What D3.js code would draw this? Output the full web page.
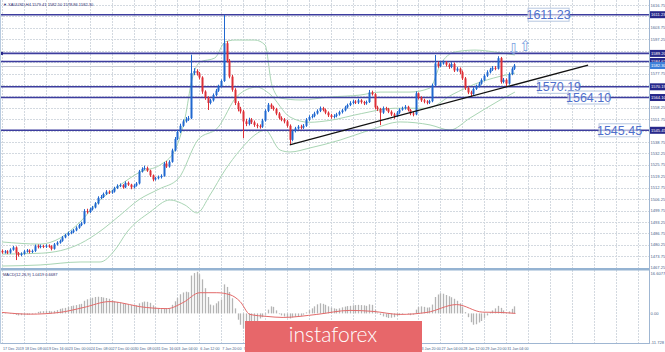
<!DOCTYPE html>
<html>
<head>
<meta charset="utf-8">
<script src="https://cdn.jsdelivr.net/npm/d3@7/dist/d3.min.js"></script>
<style>
	body { margin: 0; background: #fff; }
	svg { display: block; font-family: "DejaVu Sans", sans-serif; }
	.small { font-family: "Liberation Sans Narrow", "Arial Narrow", "Liberation Sans", sans-serif; }
</style>
</head>
<body>
<svg id="chart" width="665" height="352"></svg>
<script>
// XAUUSD H4 candles
const open = [
	1476.8,1476.0,1476.5,1475.8,1477.5,1478.8,1475.5,1474.5,1475.2,1476.5,
	1477.0,1476.2,1476.8,1479.5,1479.0,1479.6,1479.2,1479.8,1479.4,1478.0,
	1480.5,1481.5,1482.5,1484.5,1485.8,1487.0,1487.5,1488.5,1490.0,1491.5,
	1492.5,1499.5,1499.0,1500.5,1501.5,1503.8,1507.0,1507.5,1509.2,1510.5,
	1510.0,1510.6,1512.5,1513.8,1514.2,1513.0,1515.5,1514.5,1513.0,1514.0,
	1515.2,1522.0,1523.5,1524.0,1522.5,1519.8,1517.5,1518.2,1518.8,1519.5,
	1526.5,1524.8,1527.5,1534.0,1540.5,1544.5,1548.0,1550.5,1551.8,1552.3,
	1578.0,1579.2,1577.8,1575.5,1567.5,1564.0,1561.0,1562.5,1565.5,1568.0,
	1570.5,1573.5,1595.0,1585.0,1576.0,1568.5,1561.0,1557.5,1556.2,1550.5,
	1549.0,1551.5,1550.0,1548.5,1547.8,1547.5,1551.0,1556.5,1560.0,1558.5,
	1557.5,1555.0,1552.5,1551.5,1550.5,1548.0,1540.0,1545.0,1546.5,1547.5,
	1547.0,1548.0,1551.5,1553.0,1553.5,1555.0,1556.5,1558.0,1557.0,1555.5,
	1554.0,1553.0,1553.6,1554.5,1555.8,1556.8,1558.5,1559.8,1561.0,1561.8,
	1561.2,1562.5,1561.5,1560.8,1561.5,1567.0,1566.0,1558.5,1557.5,1555.5,
	1558.0,1557.5,1556.0,1554.5,1553.5,1555.5,1557.2,1558.0,1558.8,1557.0,
	1555.0,1554.5,1566.5,1564.0,1562.5,1561.8,1561.2,1562.0,1571.0,1583.5,
	1582.0,1583.5,1584.0,1582.8,1581.5,1583.2,1579.5,1580.5,1578.5,1575.0,
	1569.5,1567.0,1566.2,1569.0,1570.5,1572.0,1574.0,1576.5,1578.5,1580.0,
	1581.0,1580.5,1586.5,1573.0,1574.2,1572.0,1577.5,1580.5];
const high = [
	1477.6,1477.3,1477.2,1478.3,1479.6,1479.4,1476.2,1476.0,1477.3,1477.9,
	1477.7,1477.6,1480.4,1480.5,1480.4,1480.3,1480.6,1480.5,1480.0,1481.3,
	1482.3,1483.3,1485.3,1486.6,1487.8,1488.4,1489.3,1490.8,1492.3,1493.4,
	1500.6,1500.8,1501.4,1502.4,1504.6,1507.9,1508.6,1510.0,1511.4,1511.3,
	1511.5,1513.3,1514.7,1515.2,1514.8,1516.4,1516.3,1515.0,1514.8,1516.0,
	1522.9,1524.4,1525.3,1524.8,1523.0,1520.3,1519.0,1519.7,1520.4,1527.4,
	1528.0,1528.4,1535.0,1541.6,1545.6,1549.2,1551.6,1553.0,1553.6,1588.5,
	1580.8,1580.2,1578.6,1576.2,1568.2,1564.8,1563.4,1566.4,1569.0,1571.4,
	1574.4,1611.2,1596.2,1586.0,1577.0,1569.4,1562.0,1558.8,1557.0,1552.0,
	1552.6,1552.4,1551.0,1549.4,1548.8,1552.0,1557.4,1561.0,1560.8,1559.4,
	1558.2,1555.8,1553.4,1552.4,1551.4,1548.8,1545.8,1547.4,1548.4,1548.6,
	1549.0,1552.4,1554.0,1554.6,1556.0,1557.4,1559.0,1558.8,1557.8,1556.2,
	1554.8,1554.6,1555.4,1556.6,1557.6,1559.4,1560.6,1562.0,1562.8,1562.6,
	1563.4,1563.2,1562.2,1562.4,1568.4,1568.0,1566.6,1559.4,1558.2,1559.0,
	1558.8,1558.2,1556.8,1555.4,1556.4,1558.0,1558.9,1559.8,1559.4,1557.6,
	1556.0,1567.6,1567.0,1564.8,1563.4,1562.6,1562.8,1572.0,1588.3,1584.6,
	1584.6,1585.2,1584.8,1583.6,1584.2,1584.0,1581.4,1581.2,1579.4,1575.8,
	1570.4,1568.0,1570.0,1571.4,1573.0,1575.0,1577.4,1579.6,1581.0,1582.0,
	1582.0,1587.6,1587.2,1575.2,1575.0,1578.4,1581.4,1583.2];
const low = [
	1475.2,1475.3,1475.0,1475.2,1476.9,1471.6,1473.6,1473.8,1474.6,1475.8,
	1475.4,1475.6,1476.2,1478.2,1478.3,1478.4,1478.5,1478.6,1477.1,1477.5,
	1479.9,1480.9,1482.0,1484.0,1485.2,1486.3,1486.9,1488.0,1489.4,1490.9,
	1492.0,1498.0,1498.4,1499.8,1501.0,1503.2,1506.2,1506.9,1508.6,1509.2,
	1509.3,1510.0,1512.0,1513.1,1512.2,1512.5,1513.8,1511.9,1512.3,1513.4,
	1514.6,1521.4,1522.9,1521.8,1518.9,1516.4,1516.8,1517.5,1518.0,1519.0,
	1524.0,1524.2,1527.0,1533.4,1539.8,1543.8,1547.4,1549.8,1550.8,1551.8,
	1576.8,1576.6,1574.4,1566.2,1562.8,1557.0,1560.2,1561.8,1564.8,1567.3,
	1569.8,1573.0,1584.0,1575.0,1567.4,1559.8,1556.2,1555.0,1541.0,1547.8,
	1548.2,1549.0,1547.4,1546.6,1546.4,1546.8,1550.4,1555.8,1557.6,1556.6,
	1554.0,1551.6,1550.6,1549.4,1547.0,1537.1,1539.2,1544.2,1545.8,1546.0,
	1546.2,1547.4,1550.8,1552.2,1552.8,1554.4,1555.8,1556.2,1554.6,1553.0,
	1552.0,1552.2,1552.8,1553.8,1555.0,1556.2,1557.8,1559.2,1560.2,1560.4,
	1560.4,1560.6,1559.8,1560.0,1561.0,1565.2,1557.4,1556.4,1548.4,1554.8,
	1556.6,1555.2,1553.6,1552.0,1553.0,1554.8,1556.6,1557.2,1556.2,1554.0,
	1553.4,1554.0,1563.0,1561.6,1560.8,1560.2,1560.4,1561.4,1570.4,1581.0,
	1581.4,1582.8,1581.8,1580.4,1580.8,1578.6,1578.8,1577.4,1574.0,1568.4,
	1566.0,1564.4,1565.6,1568.4,1569.8,1571.4,1573.4,1575.8,1577.8,1579.2,
	1579.6,1580.0,1572.0,1572.2,1570.5,1571.4,1576.8,1579.8];
const close = [
	1476.0,1476.5,1475.8,1477.5,1478.8,1475.5,1474.5,1475.2,1476.5,1477.0,
	1476.2,1476.8,1479.5,1479.0,1479.6,1479.2,1479.8,1479.4,1478.0,1480.5,
	1481.5,1482.5,1484.5,1485.8,1487.0,1487.5,1488.5,1490.0,1491.5,1492.5,
	1499.5,1499.0,1500.5,1501.5,1503.8,1507.0,1507.5,1509.2,1510.5,1510.0,
	1510.6,1512.5,1513.8,1514.2,1513.0,1515.5,1514.5,1513.0,1514.0,1515.2,
	1522.0,1523.5,1524.0,1522.5,1519.8,1517.5,1518.2,1518.8,1519.5,1526.5,
	1524.8,1527.5,1534.0,1540.5,1544.5,1548.0,1550.5,1551.8,1552.3,1578.0,
	1579.2,1577.8,1575.5,1567.5,1564.0,1561.0,1562.5,1565.5,1568.0,1570.5,
	1573.5,1595.0,1585.0,1576.0,1568.5,1561.0,1557.5,1556.2,1550.5,1549.0,
	1551.5,1550.0,1548.5,1547.8,1547.5,1551.0,1556.5,1560.0,1558.5,1557.5,
	1555.0,1552.5,1551.5,1550.5,1548.0,1540.0,1545.0,1546.5,1547.5,1547.0,
	1548.0,1551.5,1553.0,1553.5,1555.0,1556.5,1558.0,1557.0,1555.5,1554.0,
	1553.0,1553.6,1554.5,1555.8,1556.8,1558.5,1559.8,1561.0,1561.8,1561.2,
	1562.5,1561.5,1560.8,1561.5,1567.0,1566.0,1558.5,1557.5,1555.5,1558.0,
	1557.5,1556.0,1554.5,1553.5,1555.5,1557.2,1558.0,1558.8,1557.0,1555.0,
	1554.5,1566.5,1564.0,1562.5,1561.8,1561.2,1562.0,1571.0,1583.5,1582.0,
	1583.5,1584.0,1582.8,1581.5,1583.2,1579.5,1580.5,1578.5,1575.0,1569.5,
	1567.0,1566.2,1569.0,1570.5,1572.0,1574.0,1576.5,1578.5,1580.0,1581.0,
	1580.5,1586.5,1573.0,1574.2,1572.0,1577.5,1580.5,1582.3];

// bollinger bands, points [bar, price]
const bbUpper = [[0,1481.9],[13.9,1480.7],[21.2,1484.1],[28.5,1493.3],[35.8,1505.8],[43.1,1514.3],[50.4,1521.7],[57.7,1525.7],[63.1,1534.2],[66.8,1552.4],[69.3,1574.1],[72.3,1584.3],[77.7,1586.6],[81.4,1595.7],[85,1596.8],[92.3,1596.8],[96,1594.0],[98.5,1571.2],[101.5,1563.8],[108.8,1562.7],[119.7,1564.4],[130.7,1565.5],[138,1567.2],[148.9,1567.2],[156.2,1569.5],[159.9,1582.6],[165.3,1590.0],[172.6,1591.1],[179.9,1590.0],[187.2,1588.3]];
const bbMiddle = [[0,1475],[14.3,1475.5],[28.6,1481],[35.8,1488],[43,1497],[50,1506],[57.3,1512],[64.4,1518],[71.5,1540],[78.8,1547],[85.9,1565],[93,1570],[97.8,1566],[105.1,1553],[112.2,1550],[119.3,1551],[131.3,1555],[143.2,1558],[155.1,1558],[164.6,1566],[173,1572],[181.4,1576],[187.2,1578]];
const bbLower = [[0,1468.2],[13.9,1468.8],[28.5,1470.5],[35.8,1470.5],[41.2,1477.3],[45.6,1487.5],[54,1498.9],[61.3,1505.8],[66.8,1502.9],[71.2,1498.4],[75.9,1508.6],[81.4,1522.8],[86.9,1534.2],[92.3,1542.8],[96,1545.6],[101.5,1534.2],[105.1,1533.1],[112.4,1535.4],[123.4,1539.9],[134.3,1545.6],[145.3,1550.2],[156.2,1548.5],[163.5,1545.6],[170.8,1552.4],[181.8,1562.7],[187.2,1567.2]];

// MACD(12,26,9): histogram per bar, signal line points [bar, value]
const macd = [
	0.3,0.2,0.0,-0.2,-0.3,-0.6,-0.8,-0.7,-0.6,-0.5,
	-0.4,-0.3,0.2,0.6,0.8,0.9,1.0,1.0,0.8,1.0,
	1.3,1.8,2.0,2.2,2.6,2.9,3.1,3.3,3.6,3.8,
	5.0,5.6,5.9,6.2,6.5,6.6,6.5,6.3,6.1,5.8,
	5.3,4.8,4.5,4.2,3.9,3.8,3.6,3.3,3.0,3.2,
	4.0,4.4,4.7,4.6,4.2,3.2,2.4,1.9,1.7,1.8,
	2.0,2.1,3.4,4.8,6.2,7.6,8.3,8.6,8.4,15.0,
	16.0,16.5,15.5,13.5,10.0,6.5,3.5,3.2,4.0,4.8,
	5.5,11.5,10.5,8.5,6.0,2.0,-2.5,-4.5,-6.0,-7.0,
	-6.5,-5.5,-4.0,-3.0,-2.0,-1.5,-0.5,1.5,2.8,2.6,
	1.2,-0.3,-0.8,-1.2,-1.6,-2.0,-1.6,-1.3,-1.1,-1.0,
	-0.5,0.4,1.3,2.0,2.8,3.6,4.0,3.8,3.4,2.8,
	2.3,2.0,1.8,2.0,2.4,2.7,2.9,3.0,3.2,3.3,
	3.4,3.3,3.2,3.0,3.6,3.4,1.5,0.3,-0.6,-1.2,
	-1.5,-1.8,-1.7,-1.5,-1.1,-0.7,-0.3,0.0,-0.3,-0.7,
	-0.5,1.5,2.5,2.8,2.6,2.3,2.4,3.5,6.5,7.5,
	8.0,7.8,7.3,6.8,6.4,5.8,5.0,4.0,2.5,0.5,
	-1.5,-3.5,-4.5,-4.3,-3.6,-3.0,-1.8,-0.8,0.5,1.2,
	2.0,3.0,2.2,1.2,0.4,0.8,1.8,2.8];
const signal = [[0,0.4],[10.3,-0.3],[21.1,0.4],[29.6,2.3],[39.4,4.7],[43,4.3],[50.1,2.7],[60.3,1.9],[66.1,4.3],[72.2,8.2],[78.4,8.2],[83.2,7.4],[86.9,4.7],[90.5,-0.4],[96.7,-1.2],[102.6,-1.6],[114.9,-0.4],[127,1.2],[135.4,0.8],[145.3,-0.4],[155.1,0.4],[165.9,3.5],[175.4,0.5],[181.4,0.4],[187.4,0.0]];

// support / resistance levels, their text boxes, trend line
const levels = [1611.23, 1589.20, 1584.62, 1570.19, 1564.10, 1545.45];
const levelBoxes = [[192, 1611.23], [195.6, 1570.19], [206.6, 1564.10], [217.9, 1545.45]];
const trend = [[105, 1537.1], [213.9, 1582.6]];
const lastPrice = 1582.30;

const priceTicks = [1467.25,1473.75,1480.25,1486.75,1493.25,1499.75,1506.25,1512.75,1519.25,1525.75,1532.25,1538.75,1545.25,1551.75,1558.25,1564.75,1571.25,1577.75,1584.25,1590.75,1597.25,1603.75,1610.25,1616.75];
const timeTicks = [0,8,16,24,32,40,48,56,64,72,80,88,96,104,112,120,128,136,144,152,160,168,176,184,192,200,208,216,224,232];
const timeLabels = ["17 Dec 2019","18 Dec 08:00","19 Dec 16:00","23 Dec 00:00","24 Dec 08:00","27 Dec 00:00","30 Dec 08:00","31 Dec 16:00","3 Jan 04:00","6 Jan 12:00","7 Jan 20:00","9 Jan 04:00","10 Jan 12:00","13 Jan 20:00","15 Jan 04:00","16 Jan 12:00","17 Jan 20:00","21 Jan 04:00","22 Jan 12:00","23 Jan 20:00","27 Jan 04:00","28 Jan 12:00","29 Jan 20:00","31 Jan 04:00"];

var svg = d3.select("#chart");
var plotRight = 649;

var x = d3.scaleLinear().domain([0, 237]).range([2, 2 + 2.74 * 237]);
var y = d3.scaleLinear().domain([1467.25, 1616.75]).range([267.7, 5]);
var ym = d3.scaleLinear().domain([-11.728, 16.6077]).range([343, 271.5]);

var navy = "#28288a";
var axisColor = "#4a5f8c";
var px = function(v) { return Math.round(v) + 0.5; };

// grid
var grid = svg.append("g");
grid.selectAll(".hg").data(priceTicks).enter().append("line")
	.attr("x1", 0).attr("x2", plotRight)
	.attr("y1", function(d) { return px(y(d)); })
	.attr("y2", function(d) { return px(y(d)); })
	.attr("stroke", "#d3d9e0").attr("stroke-dasharray", "2,1");
grid.selectAll(".vg").data(timeTicks).enter().append("line")
	.attr("x1", function(d) { return px(x(d)); })
	.attr("x2", function(d) { return px(x(d)); })
	.attr("y1", 0).attr("y2", 343)
	.attr("stroke", "#d3d9e0").attr("stroke-dasharray", "2,1");

// bollinger bands
var line = d3.line().x(function(d) { return x(d[0]); }).y(function(d) { return y(d[1]); }).curve(d3.curveMonotoneX);
[bbUpper, bbMiddle, bbLower].forEach(function(band) {
	svg.append("path").attr("d", line(band))
		.attr("fill", "none").attr("stroke", "#a9d5b4").attr("stroke-width", 1);
});

// levels
svg.selectAll(".lvl").data(levels).enter().append("line")
	.attr("x1", 0).attr("x2", plotRight)
	.attr("y1", function(d) { return y(d); }).attr("y2", function(d) { return y(d); })
	.attr("stroke", "#3d3d9e").attr("stroke-width", 1.6);
svg.append("rect").attr("x", 0).attr("y", y(levels[1]) - 1.5).attr("width", 3).attr("height", 3).attr("fill", navy);
svg.append("line").attr("x1", 0).attr("x2", plotRight)
	.attr("y1", px(y(lastPrice))).attr("y2", px(y(lastPrice)))
	.attr("stroke", "#c8ccd4").attr("stroke-width", 1);

// candles
var bars = d3.range(close.length);
var up = "#2068d0", down = "#dd2f36";
var color = function(i) { return close[i] >= open[i] ? up : down; };
svg.append("g").selectAll("line").data(bars).enter().append("line")
	.attr("x1", function(i) { return px(x(i)); })
	.attr("x2", function(i) { return px(x(i)); })
	.attr("y1", function(i) { return y(high[i]); })
	.attr("y2", function(i) { return y(low[i]); })
	.attr("stroke", color);
svg.append("g").selectAll("rect").data(bars).enter().append("rect")
	.attr("x", function(i) { return Math.round(x(i)) - 0.5; })
	.attr("width", 2)
	.attr("y", function(i) { return y(Math.max(open[i], close[i])); })
	.attr("height", function(i) { return Math.max(1, Math.abs(y(open[i]) - y(close[i]))); })
	.attr("fill", color);

// trend line
svg.append("line")
	.attr("x1", x(trend[0][0])).attr("y1", y(trend[0][1]))
	.attr("x2", x(trend[1][0])).attr("y2", y(trend[1][1]))
	.attr("stroke", "#111").attr("stroke-width", 1.3);

// level text boxes
var boxes = svg.selectAll(".box").data(levelBoxes).enter().append("g")
	.attr("transform", function(d) { return "translate(" + x(d[0]) + "," + y(d[1]) + ")"; });
boxes.append("rect").attr("x", 0).attr("y", -6.5).attr("width", 41).attr("height", 13)
	.attr("fill", "rgba(255,255,255,0.6)").attr("stroke", "#b5c6e0");
boxes.append("text").attr("x", 20.5).attr("y", 4.5).attr("text-anchor", "middle")
	.style("font-size", "12.5px").style("font-family", "Liberation Sans, Arial, sans-serif")
	.attr("fill", "#4f70cc").text(function(d) { return d[1].toFixed(2); });

// arrows
svg.append("text").attr("x", x(184.5)).attr("y", y(1588.6)).style("font-size", "15px").attr("fill", "#7b9fe0").text("\u21E9");
svg.append("text").attr("x", x(188.8)).attr("y", y(1590.8)).style("font-size", "15px").attr("fill", "#7b9fe0").text("\u21E7");

// macd panel
svg.append("g").selectAll("line").data(bars).enter().append("line")
	.attr("x1", function(i) { return px(x(i)); })
	.attr("x2", function(i) { return px(x(i)); })
	.attr("y1", ym(0)).attr("y2", function(i) { return ym(macd[i]); })
	.attr("stroke", "#b4b4b4").attr("stroke-width", 1.3);
svg.append("path").attr("d", d3.line().x(function(d) { return x(d[0]); }).y(function(d) { return ym(d[1]); }).curve(d3.curveMonotoneX)(signal))
	.attr("fill", "none").attr("stroke", "#e36a6a").attr("stroke-width", 1);

// panel separator and frame
svg.append("rect").attr("x", 0).attr("y", 268).attr("width", plotRight + 1).attr("height", 2.5).attr("fill", "#95b3d2");
svg.append("line").attr("x1", plotRight + 0.5).attr("x2", plotRight + 0.5).attr("y1", 0).attr("y2", 344).attr("stroke", "#9fb6d2");
svg.append("line").attr("x1", 0).attr("x2", plotRight).attr("y1", 343.5).attr("y2", 343.5).attr("stroke", "#9fb6d2");
svg.append("line").attr("x1", 0.5).attr("x2", 0.5).attr("y1", 0).attr("y2", 344).attr("stroke", "#b8cbe0");

// price axis labels (those under a marked level are hidden, as on the terminal)
var marked = levels.concat([lastPrice]);
var shown = priceTicks.filter(function(d) {
	return !marked.some(function(m) { return Math.abs(y(m) - y(d)) < 7; });
});
var axisFont = "4.1px";
svg.selectAll(".pl").data(shown).enter().append("text")
	.attr("class", "small")
	.attr("x", plotRight + 1.5).attr("y", function(d) { return y(d) + 1.5; })
	.style("font-size", axisFont).attr("fill", axisColor).text(function(d) { return d.toFixed(2); });
var hl = svg.selectAll(".hl").data(levels).enter().append("g")
	.attr("transform", function(d) { return "translate(" + (plotRight + 1) + "," + y(d) + ")"; });
hl.append("rect").attr("x", 0).attr("y", -3.5).attr("width", 15).attr("height", 7).attr("fill", navy);
hl.append("text").attr("class", "small").attr("x", 1).attr("y", 1.5)
	.style("font-size", axisFont).attr("fill", "#fff").text(function(d) { return d.toFixed(2); });
var lp = svg.append("g").attr("transform", "translate(" + (plotRight + 1) + "," + y(lastPrice) + ")");
lp.append("rect").attr("x", 0).attr("y", -3.5).attr("width", 15).attr("height", 7).attr("fill", "#3d7fd9");
lp.append("text").attr("class", "small").attr("x", 1).attr("y", 1.5)
	.style("font-size", axisFont).attr("fill", "#fff").text(lastPrice.toFixed(2));

svg.append("text").attr("class", "small").attr("x", plotRight + 1.5).attr("y", ym(16.6077) + 3)
	.style("font-size", axisFont).attr("fill", axisColor).text("16.6077");
svg.append("text").attr("class", "small").attr("x", plotRight + 1.5).attr("y", ym(0) + 1.5)
	.style("font-size", axisFont).attr("fill", axisColor).text("0.00");
svg.append("text").attr("class", "small").attr("x", plotRight + 1.5).attr("y", ym(-11.728) + 0.5)
	.style("font-size", axisFont).attr("fill", axisColor).text("-11.728");

// time labels
svg.selectAll(".tl").data(timeLabels).enter().append("text")
	.attr("class", "small")
	.attr("x", function(d, i) { return x(timeTicks[i]) + 1; })
	.attr("y", 349.5)
	.style("font-size", "3.7px").attr("fill", axisColor)
	.text(function(d) { return d; });

// titles
svg.append("text").attr("class", "small").attr("x", 3).attr("y", 5.5).style("font-size", "4px").attr("fill", "#2b2b6e")
	.text("\u25BC XAUUSD,H4  1579.41 1582.50 1578.86 1582.30");
svg.append("text").attr("class", "small").attr("x", 3).attr("y", 276).style("font-size", "4px").attr("fill", "#2b2b6e")
	.text("MACD(12,26,9) 1.0419 0.6687");

// logo
svg.append("rect").attr("x", 245).attr("y", 321).attr("width", 177).attr("height", 31).attr("fill", "#e7676a");
svg.append("text").attr("x", 333).attr("y", 342).attr("text-anchor", "middle")
	.style("font-size", "21px").style("font-family", "Lato, sans-serif").style("font-weight", 300)
	.attr("fill", "#fff").text("instaforex");
</script>
</body>
</html>
